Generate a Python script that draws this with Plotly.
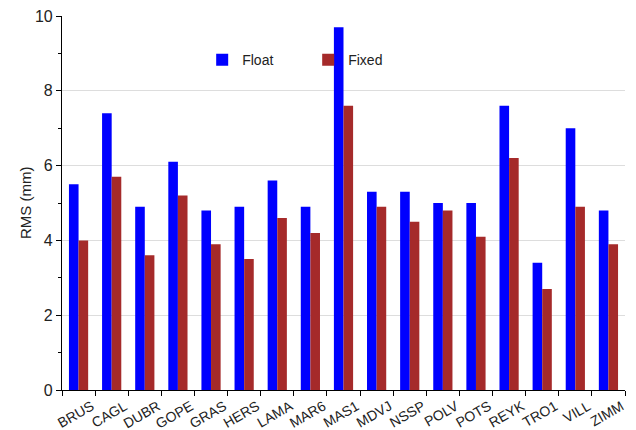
import plotly.graph_objects as go

stations = ["BRUS", "CAGL", "DUBR", "GOPE", "GRAS", "HERS", "LAMA", "MAR6", "MAS1",
            "MDVJ", "NSSP", "POLV", "POTS", "REYK", "TRO1", "VILL", "ZIMM"]
float_rms = [5.5, 7.4, 4.9, 6.1, 4.8, 4.9, 5.6, 4.9, 9.7, 5.3, 5.3, 5.0, 5.0, 7.6, 3.4, 7.0, 4.8]
fixed_rms = [4.0, 5.7, 3.6, 5.2, 3.9, 3.5, 4.6, 4.2, 7.6, 4.9, 4.5, 4.8, 4.1, 6.2, 2.7, 4.9, 3.9]
y_ticks = [0, 2, 4, 6, 8, 10]
y_title = "RMS (mm)"

FONT = "Liberation Sans, Arial, sans-serif"

fig = go.Figure()
fig.add_trace(go.Bar(name="Float", x=stations, y=float_rms, marker=dict(color="#0000ff", line=dict(width=0))))
fig.add_trace(go.Bar(name="Fixed", x=stations, y=fixed_rms, marker=dict(color="#a52a2a", line=dict(width=0))))

fig.update_layout(
    width=636, height=430,
    margin=dict(l=62, r=11, t=16, b=40, autoexpand=False),
    paper_bgcolor="white", plot_bgcolor="white",
    barmode="group", bargap=0.42, bargroupgap=0,
    font=dict(family=FONT, color="#222222"),
    legend=dict(orientation="h", x=0.249, xanchor="left", y=0.882, yanchor="middle",
                font=dict(size=14, color="#222222"), bgcolor="rgba(0,0,0,0)",
                entrywidth=61, itemwidth=30),
    showlegend=True,
)
fig.add_annotation(text=y_title, textangle=-90, xref="paper", yref="paper",
                   x=0, y=0.5, xshift=-37, xanchor="center", yanchor="middle",
                   showarrow=False, font=dict(size=15, color="#222222"))
fig.update_xaxes(
    type="category", tickson="boundaries", ticks="outside", ticklen=5, tickcolor="black",
    showline=True, linecolor="black", linewidth=1, showgrid=False, automargin=False,
    tickangle=-30, tickfont=dict(size=14, color="#222222"), ticklabelshift=13,
    ticklabelstandoff=2,
    range=[-0.5, len(stations) - 0.5],
)
fig.update_yaxes(
    range=[0, 10], tickvals=y_ticks, ticks="outside", ticklen=5, tickcolor="black",
    showline=True, linecolor="black", linewidth=1.2, automargin=False,
    ticklabeloverflow="allow",
    showgrid=True, gridcolor="#dddddd", gridwidth=1, zeroline=False,
    tickfont=dict(size=16, color="#222222"),
    minor=dict(dtick=1, ticks="outside", ticklen=3, tickcolor="black", showgrid=False),
)

fig.write_html("out.html", config={"displayModeBar": False},
               post_script="document.body.style.margin='0';document.body.style.overflow='hidden';")
